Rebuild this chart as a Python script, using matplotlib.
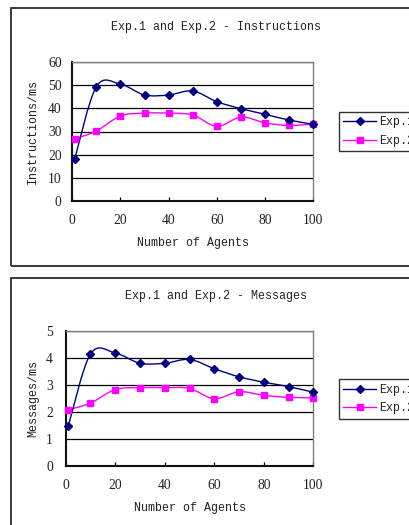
import matplotlib
matplotlib.use("Agg")
import matplotlib.pyplot as plt
from matplotlib.path import Path
from matplotlib.patches import PathPatch, Rectangle
from matplotlib.lines import Line2D
import numpy as np

# ---- data -------------------------------------------------------------
agents = [1, 10, 20, 30, 40, 50, 60, 70, 80, 90, 100]

instr_exp1 = [18.2, 49.3, 50.3, 45.7, 45.7, 47.4, 42.8, 39.8, 37.4, 34.9, 33.1]
instr_exp2 = [26.9, 30.2, 36.7, 37.9, 37.9, 37.1, 32.2, 36.2, 33.7, 32.6, 33.2]

msg_exp1 = [1.47, 4.14, 4.18, 3.80, 3.80, 3.94, 3.60, 3.30, 3.10, 2.94, 2.73]
msg_exp2 = [2.09, 2.33, 2.83, 2.90, 2.90, 2.87, 2.49, 2.75, 2.62, 2.54, 2.53]

x_ticks = [0, 20, 40, 60, 80, 100]
series_labels = ["Exp.1", "Exp.2"]

# ---- style ------------------------------------------------------------
W, H, DPI = 410, 525, 100
TEXT_FONT = "Liberation Mono"
NUM_FONT = "Liberation Serif"
NAVY = "#000080"
MAGENTA = "#FF00FF"
TXT = "#222222"

fig = plt.figure(figsize=(W / DPI, H / DPI), dpi=DPI)
fig.patch.set_facecolor("white")


def px_rect(left, top, right, bottom):
    return [left / W, 1 - bottom / H, (right - left) / W, (bottom - top) / H]


def smooth_path(xs, ys):
    """Piecewise cubic Bezier through the points (Catmull-Rom style)."""
    pts = np.column_stack([xs, ys]).astype(float)
    n = len(pts)
    verts = [pts[0]]
    codes = [Path.MOVETO]
    for i in range(n - 1):
        p0 = pts[i - 1] if i > 0 else pts[i]
        p1 = pts[i]
        p2 = pts[i + 1]
        p3 = pts[i + 2] if i + 2 < n else pts[i + 1]
        c1 = p1 + (p2 - p0) / 6.0
        c2 = p2 - (p3 - p1) / 6.0
        verts += [c1, c2, p2]
        codes += [Path.CURVE4] * 3
    return Path(verts, codes)


def draw_chart(box, plot, title, title_y, ylabel, ylab_x, xlab_y, ylim, ystep,
               s1, s2, legend_box, ypad):
    # chart frame
    bl, bt, br, bb = box
    fig.patches.append(Rectangle((bl / W, 1 - bb / H), (br - bl) / W, (bb - bt) / H,
                                 transform=fig.transFigure, fill=False,
                                 edgecolor="#2a2a2a", linewidth=1.3))
    fig.text(216 / W, 1 - title_y / H, title,
             family=TEXT_FONT, fontsize=8.4, color=TXT,
             ha="center", va="center")

    ax = fig.add_axes(px_rect(*plot))
    ax.set_xlim(0, 100)
    ax.set_ylim(*ylim)
    ax.set_xticks(x_ticks)
    ax.set_yticks(np.arange(ylim[0], ylim[1] + ystep / 2, ystep))
    ax.yaxis.grid(True, color="black", linewidth=0.9)
    ax.set_axisbelow(True)

    for side in ("top", "right"):
        ax.spines[side].set_color("#808080")
        ax.spines[side].set_linewidth(1.0)
    for side in ("left", "bottom"):
        ax.spines[side].set_color("#111111")
        ax.spines[side].set_linewidth(1.5)

    ax.tick_params(axis="x", direction="in", length=3, width=0.9, pad=9.5,
                   labelsize=9.8, labelcolor=TXT)
    ax.tick_params(axis="y", direction="in", length=0, pad=ypad,
                   labelsize=9.8, labelcolor=TXT)
    for lab in ax.get_xticklabels() + ax.get_yticklabels():
        lab.set_family(NUM_FONT)

    ax.set_ylabel(ylabel, family=TEXT_FONT, fontsize=8.4, color=TXT)
    ax.yaxis.set_label_coords((ylab_x - plot[0]) / (plot[2] - plot[0]), 0.5)
    ax.set_xlabel("Number of Agents", family=TEXT_FONT, fontsize=8.4, color=TXT)
    ax.xaxis.set_label_coords(0.5, -(xlab_y - plot[3]) / (plot[3] - plot[1]))
    ax.xaxis.label.set_va("center")
    ax.yaxis.label.set_va("center")

    for ys, color, marker, ms in ((s2, MAGENTA, "s", 4.8), (s1, NAVY, "D", 4.0)):
        ax.add_patch(PathPatch(smooth_path(agents, ys), fill=False,
                               edgecolor=color, linewidth=1.0, clip_on=False))
        ax.plot(agents, ys, linestyle="none", marker=marker, markersize=ms,
                color=color, clip_on=False, zorder=5)

    handles = [Line2D([], [], color=NAVY, marker="D", markersize=4.0, linewidth=1.0),
               Line2D([], [], color=MAGENTA, marker="s", markersize=4.8, linewidth=1.0)]
    lx, ly = legend_box
    leg = fig.legend(handles, series_labels, loc="upper left",
                     bbox_to_anchor=(lx / W, 1 - ly / H),
                     prop={"family": TEXT_FONT, "size": 8.4},
                     frameon=True, fancybox=False, edgecolor="#333333",
                     framealpha=1, borderpad=0.4, labelspacing=0.55,
                     handlelength=2.8, handletextpad=0.25, borderaxespad=0)
    leg.get_frame().set_linewidth(1.0)
    for t in leg.get_texts():
        t.set_color(TXT)
    return ax


draw_chart(box=(11, 8, 430, 265.5), plot=(72.3, 61.7, 313.3, 201.3),
           title="Exp.1 and Exp.2 - Instructions", title_y=26.7,
           ylabel="Instructions/ms", ylab_x=33, xlab_y=243.3,
           ylim=(0, 60), ystep=10, s1=instr_exp1, s2=instr_exp2,
           legend_box=(338.7, 111.7), ypad=7.6)

draw_chart(box=(11, 278, 430, 540), plot=(65.7, 330.7, 313.3, 466.3),
           title="Exp.1 and Exp.2 - Messages", title_y=296,
           ylabel="Messages/ms", ylab_x=33, xlab_y=508,
           ylim=(0, 5), ystep=1, s1=msg_exp1, s2=msg_exp2,
           legend_box=(338.7, 379.3), ypad=9.1)

fig.savefig("out.png", dpi=DPI)
